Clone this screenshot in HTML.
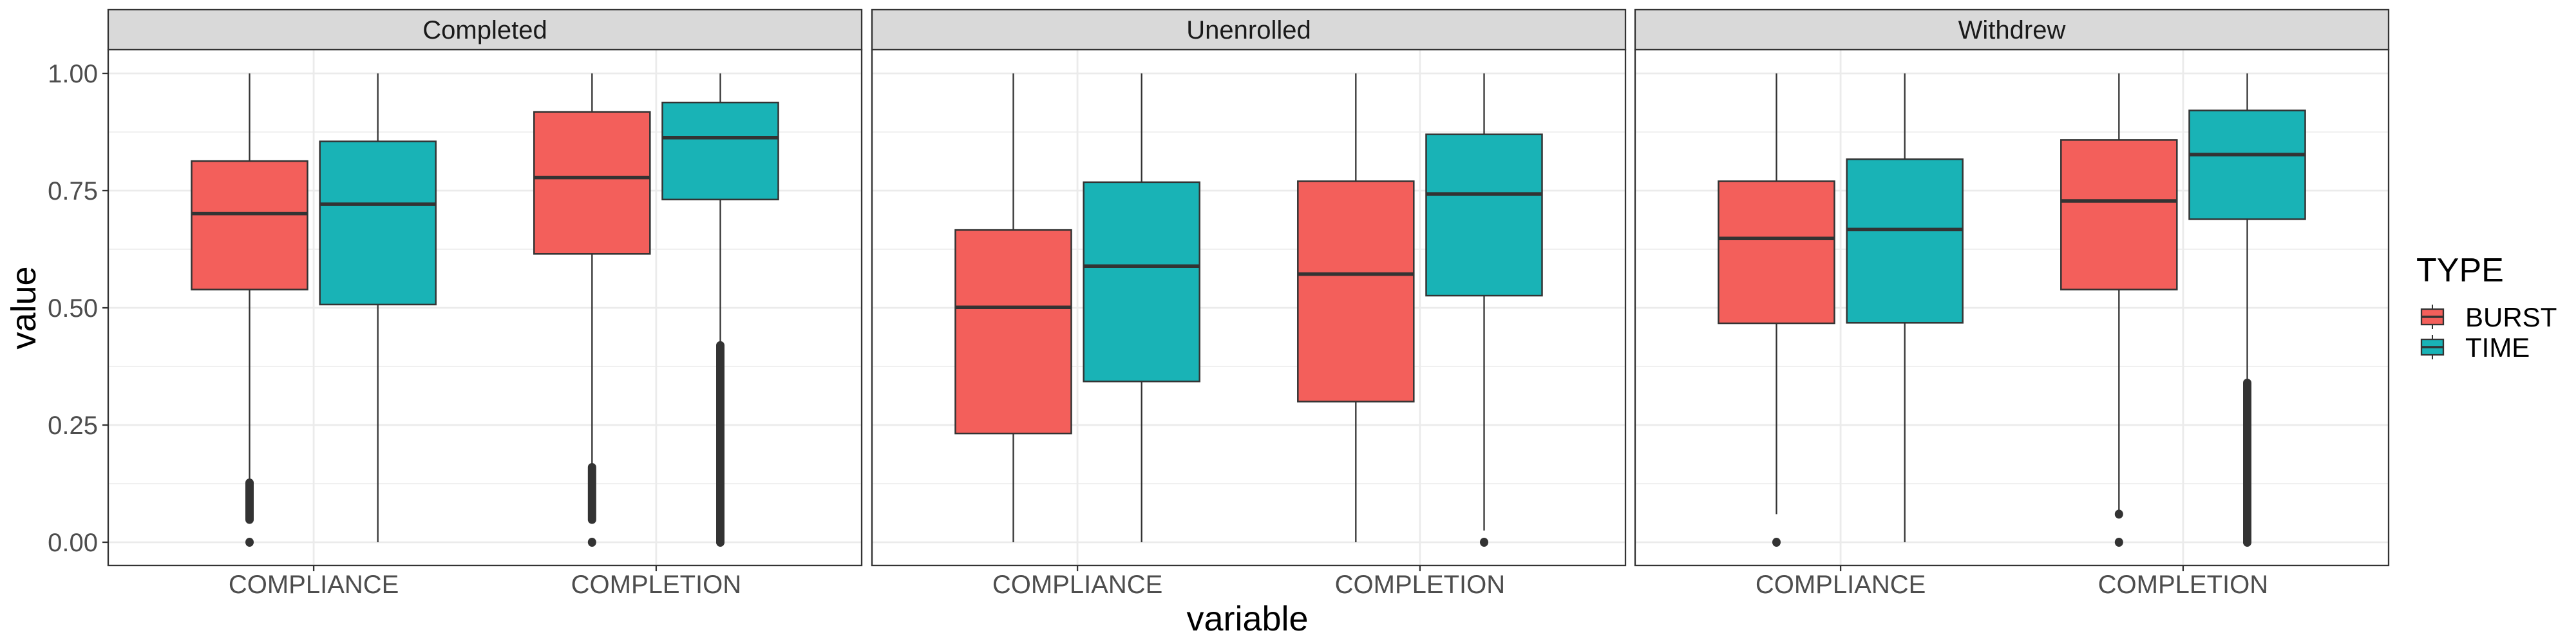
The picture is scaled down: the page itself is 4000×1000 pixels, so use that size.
<!DOCTYPE html>
<html><head><meta charset="utf-8">
<style>
html,body{margin:0;padding:0;background:#fff;}
svg{display:block;font-family:"Liberation Sans",Arial,sans-serif;}
</style></head>
<body>
<svg id="chart" width="4000" height="1000" viewBox="0 0 4000 1000">
<text x="1937" y="979" font-size="54" text-anchor="middle" fill="#000">variable</text>
<text transform="translate(55,478) rotate(-90)" font-size="54" text-anchor="middle" fill="#000">value</text>
<g>
<text x="3752" y="437" font-size="52" fill="#000">TYPE</text>
</g>
</svg>
<script>
const panels = ["Completed","Unenrolled","Withdrew"];
const categories = ["COMPLIANCE","COMPLETION"];
const types = ["BURST","TIME"];
const yTicks = [0,0.25,0.5,0.75,1.0];
const yTickLabels = ["0.00","0.25","0.50","0.75","1.00"];
// [panel][category] = [lowerWhisker, q1, median, q3, upperWhisker]
const burstStats = [
 [[0.127,0.539,0.701,0.813,1.0],[0.162,0.615,0.778,0.918,1.0]],
 [[0.0,0.232,0.501,0.666,1.0],[0.0,0.300,0.572,0.770,1.0]],
 [[0.06,0.467,0.648,0.770,1.0],[0.068,0.539,0.728,0.858,1.0]]
];
const timeStats = [
 [[0.0,0.507,0.721,0.855,1.0],[0.423,0.731,0.863,0.938,1.0]],
 [[0.0,0.343,0.589,0.768,1.0],[0.025,0.526,0.743,0.870,1.0]],
 [[0.0,0.468,0.667,0.817,1.0],[0.346,0.689,0.827,0.921,1.0]]
];
const burstOutlierBands = [[[[0.048,0.127]],[[0.048,0.160]]],[[],[]],[[],[]]];
const burstOutlierPoints = [[[0],[0]],[[],[]],[[0],[0,0.06]]];
const timeOutlierBands = [[[],[[0,0.42]]],[[],[]],[[],[[0,0.34]]]];
const timeOutlierPoints = [[[],[0]],[[],[0]],[[],[0]]];
const fills = {BURST:"#F35F5B", TIME:"#19B3B6"};

const NS="http://www.w3.org/2000/svg";
const svg=document.getElementById('chart');
function mk(tag,attrs,parent){const e=document.createElementNS(NS,tag);for(const k in attrs)e.setAttribute(k,attrs[k]);(parent||svg).appendChild(e);return e;}

const panelX0=[168,1354,2539], panelW=1170, plotTop=77, plotBottom=878, stripTop=15;
function yScale(v){return 842 - v*728;}
function xCat(p,i){return panelX0[p] + panelW*(0.6+i)/2.2;}
const boxOffset=99.6, boxW=180;

panels.forEach((pname,p)=>{
  const x0=panelX0[p];
  const g=mk('g',{});
  
  
  const bg=mk('rect',{x:x0,y:plotTop,width:panelW,height:plotBottom-plotTop,fill:'#fff'},g);
  
  
  for(let i=0;i<yTicks.length-1;i++){
    const v=(yTicks[i]+yTicks[i+1])/2;
    const l=mk('line',{x1:x0,x2:x0+panelW,y1:yScale(v),y2:yScale(v),stroke:'#ebebeb','stroke-width':1.4},g);
    
    
  }
  yTicks.forEach(v=>{
    const l=mk('line',{x1:x0,x2:x0+panelW,y1:yScale(v),y2:yScale(v),stroke:'#ebebeb','stroke-width':2.8},g);
    
    
  });
  categories.forEach((c,i)=>{
    const l=mk('line',{x1:xCat(p,i),x2:xCat(p,i),y1:plotTop,y2:plotBottom,stroke:'#ebebeb','stroke-width':2.8},g);
    
    
  });
  categories.forEach((c,i)=>{
    types.forEach((t,k)=>{
      const s=(t==='BURST'?burstStats:timeStats)[p][i];
      const bands=(t==='BURST'?burstOutlierBands:timeOutlierBands)[p][i];
      const pts=(t==='BURST'?burstOutlierPoints:timeOutlierPoints)[p][i];
      const cx=xCat(p,i)+(k===0?-boxOffset:boxOffset);
      const bg2=mk('g',{},g);
      
      
      const w1=mk('line',{x1:cx,x2:cx,y1:yScale(s[4]),y2:yScale(s[3]),stroke:'#333','stroke-width':2.3},bg2);
      
      
      const w2=mk('line',{x1:cx,x2:cx,y1:yScale(s[1]),y2:yScale(s[0]),stroke:'#333','stroke-width':2.3},bg2);
      
      
      const r=mk('rect',{x:cx-boxW/2,y:yScale(s[3]),width:boxW,height:yScale(s[1])-yScale(s[3]),fill:fills[t],stroke:'#333','stroke-width':2.5},bg2);
      
      
      const m=mk('line',{x1:cx-boxW/2,x2:cx+boxW/2,y1:yScale(s[2]),y2:yScale(s[2]),stroke:'#333','stroke-width':5.5},bg2);
      
      
      bands.forEach(b=>{
        const ol=mk('line',{x1:cx,x2:cx,y1:yScale(b[0]),y2:yScale(b[1]),stroke:'#333','stroke-width':13,'stroke-linecap':'round'},bg2);
        
        
      });
      pts.forEach(v=>{
        const o=mk('ellipse',{cx:cx,cy:yScale(v),rx:6.5,ry:7,fill:'#333'},bg2);
        
        
      });
    });
    const tk=mk('line',{x1:xCat(p,i),x2:xCat(p,i),y1:plotBottom,y2:plotBottom+9,stroke:'#333','stroke-width':2.3},g);
    
    
    const tl=mk('text',{x:xCat(p,i),y:921,'font-size':40,'text-anchor':'middle',fill:'#4d4d4d'},g);
    tl.textContent=c;
    
    
  });
  const bd=mk('rect',{x:x0,y:plotTop,width:panelW,height:plotBottom-plotTop,fill:'none',stroke:'#333','stroke-width':2.3},g);
  
  
  const st=mk('rect',{x:x0,y:stripTop,width:panelW,height:plotTop-stripTop,fill:'#d9d9d9',stroke:'#333','stroke-width':2.3},g);
  
  
  const stt=mk('text',{x:x0+panelW/2,y:60,'font-size':40,'text-anchor':'middle',fill:'#1a1a1a'},g);
  stt.textContent=pname;
  
  
});
yTicks.forEach((v,i)=>{
  const tk=mk('line',{x1:159,x2:168,y1:yScale(v),y2:yScale(v),stroke:'#333','stroke-width':2.3});
  
  
  const tl=mk('text',{x:152,y:yScale(v)+14,'font-size':40,'text-anchor':'end',fill:'#4d4d4d'});
  tl.textContent=yTickLabels[i];
  
  
});
types.forEach((t,k)=>{
  const cy=492+k*47;
  const g=mk('g',{});
  
  
  mk('line',{x1:3777,x2:3777,y1:cy-19,y2:cy+19,stroke:'#333','stroke-width':2},g);
  mk('rect',{x:3760,y:cy-12,width:34,height:24,fill:fills[t],stroke:'#333','stroke-width':2.3},g);
  mk('line',{x1:3760,x2:3794,y1:cy,y2:cy,stroke:'#333','stroke-width':3.5},g);
  const tx=mk('text',{x:3828,y:cy+15,'font-size':42,fill:'#000'},g);
  tx.textContent=t;
  
  
});
</script>
</body></html>
